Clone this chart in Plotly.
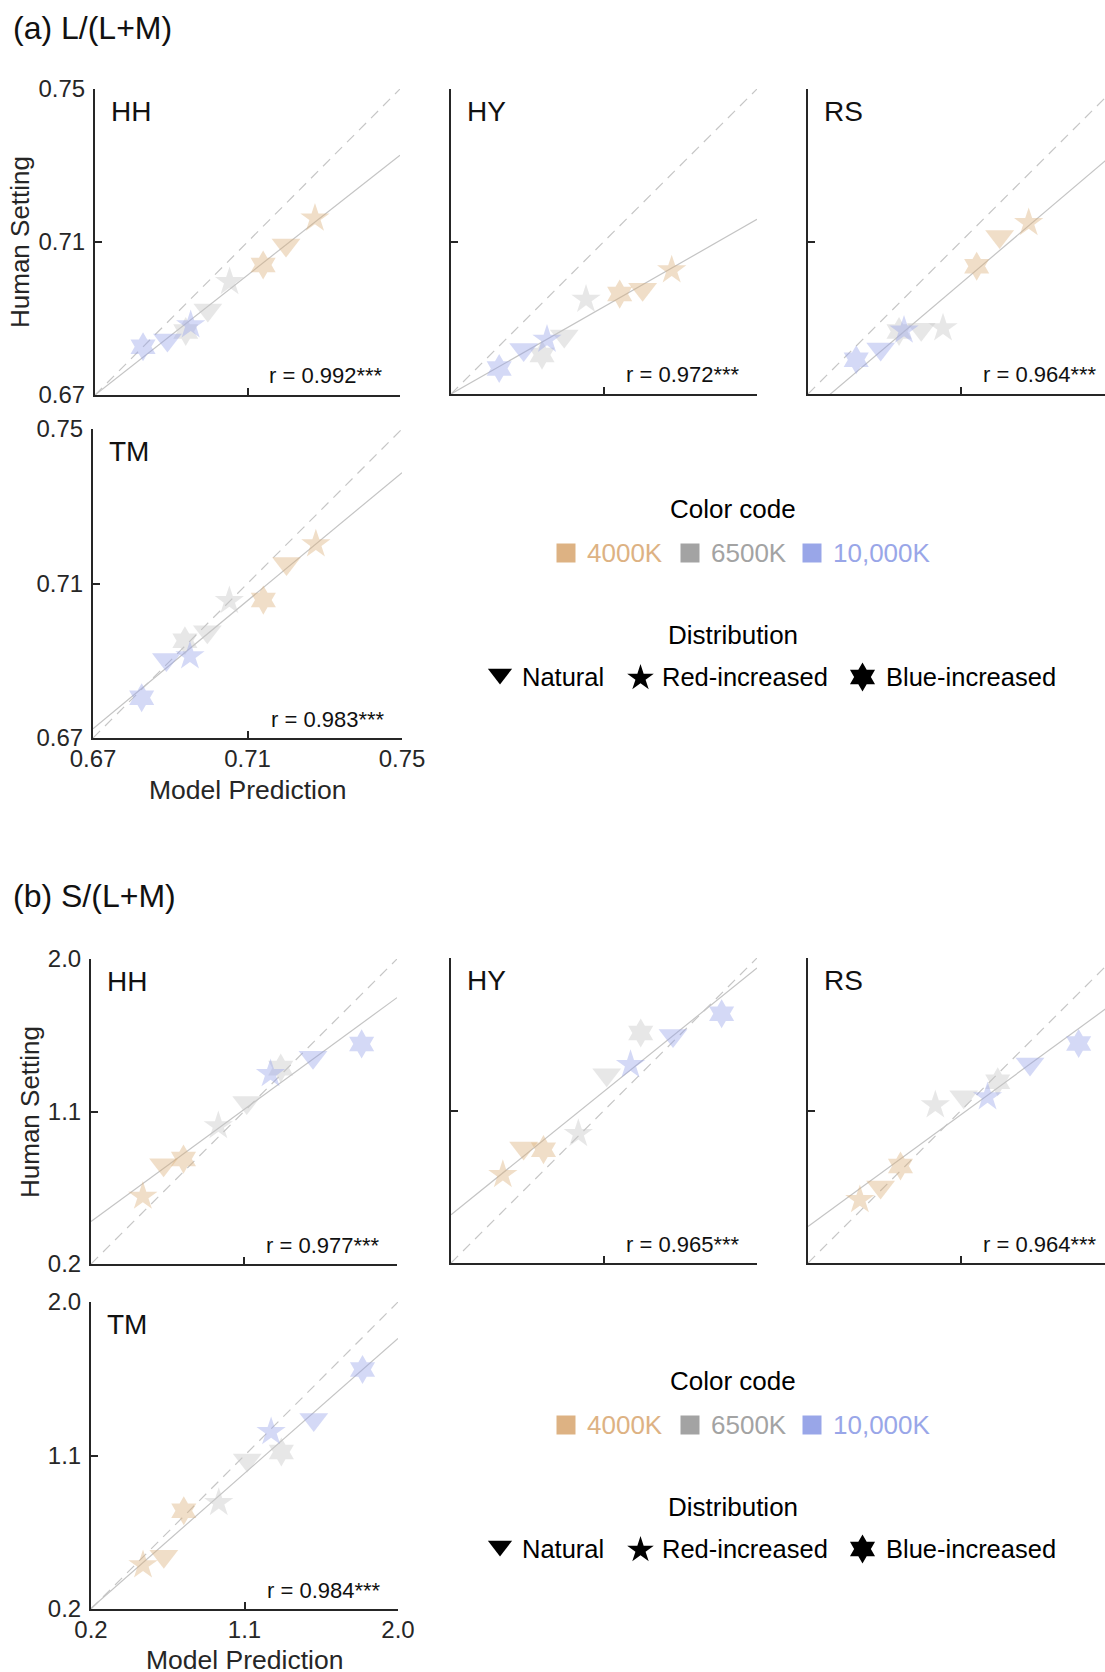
import plotly.graph_objects as go

W, H = 1105, 1672
FONT = "Liberation Sans, Arial, Helvetica, sans-serif"

# ------------------------------------------------------------------ data
observers = ["HH", "HY", "RS", "TM"]
cond_color = ["4000K", "4000K", "4000K", "6500K", "6500K", "6500K",
              "10,000K", "10,000K", "10,000K"]
cond_dist = ["Natural", "Red-increased", "Blue-increased"] * 3

# (a) L/(L+M)
model_LM = [0.7201, 0.7277, 0.7141, 0.6996, 0.7053, 0.6938, 0.6890, 0.6951, 0.6826]
human_LM_HH = [0.7092, 0.7162, 0.7040, 0.6922, 0.6996, 0.6866, 0.6844, 0.6883, 0.6826]
human_LM_HY = [0.6975, 0.7025, 0.6962, 0.6852, 0.6948, 0.6802, 0.6817, 0.6843, 0.6767]
human_LM_RS = [0.7113, 0.7149, 0.7035, 0.6870, 0.6873, 0.6864, 0.6818, 0.6867, 0.6790]
human_LM_TM = [0.7152, 0.7202, 0.7057, 0.6975, 0.7055, 0.6952, 0.6903, 0.6912, 0.6804]
# regression line: fitted human value at model = 0.67 and at model = 0.75
fit_LM_HH = [0.6700, 0.7327]
fit_LM_HY = [0.6700, 0.7158]
fit_LM_RS = [0.6650, 0.7331]
fit_LM_TM = [0.6724, 0.7387]
r_LM = ["0.992", "0.972", "0.964", "0.983"]
ticks_LM = [0.67, 0.71, 0.75]
ticklabels_LM = ["0.67", "0.71", "0.75"]

# (b) S/(L+M)
model_S = [0.627, 0.505, 0.744, 1.116, 0.949, 1.316, 1.506, 1.256, 1.792]
human_S_HH = [0.786, 0.599, 0.819, 1.153, 1.015, 1.356, 1.420, 1.322, 1.499]
human_S_HY = [0.879, 0.721, 0.869, 1.311, 0.963, 1.557, 1.542, 1.370, 1.671]
human_S_RS = [0.648, 0.573, 0.773, 1.181, 1.132, 1.270, 1.374, 1.180, 1.496]
human_S_TM = [0.510, 0.458, 0.776, 1.073, 0.823, 1.121, 1.311, 1.239, 1.604]
fit_S_HH = [0.451, 1.772]
fit_S_HY = [0.485, 1.941]
fit_S_RS = [0.416, 1.736]
fit_S_TM = [0.204, 1.786]
r_S = ["0.977", "0.965", "0.964", "0.984"]
ticks_S = [0.2, 1.1, 2.0]
ticklabels_S = ["0.2", "1.1", "2.0"]

legend_colors = ["4000K", "6500K", "10,000K"]
legend_dists = ["Natural", "Red-increased", "Blue-increased"]

# ------------------------------------------------------------------ styles
marker_rgba = {"4000K": "rgba(220,177,123,0.6)",
               "6500K": "rgba(198,198,198,0.6)",
               "10,000K": "rgba(153,165,233,0.6)"}
legend_rgb = {"4000K": "#DDB283", "6500K": "#A3A3A3", "10,000K": "#99A6E8"}
sym = {"Natural": "triangle-down", "Red-increased": "star", "Blue-increased": "hexagram"}
sym_size = {"Natural": 25, "Red-increased": 22, "Blue-increased": 22}
leg_sym_size = {"Natural": 21, "Red-increased": 20, "Blue-increased": 22}
AX = "#262626"

# panel pixel boxes (left, top, right, bottom); right may exceed page width
boxes = {
    ("a", "HH"): (95, 89, 400, 395),
    ("a", "HY"): (451, 89, 757, 394),
    ("a", "RS"): (808, 89, 1114, 394),
    ("a", "TM"): (93, 429, 402, 738),
    ("b", "HH"): (91, 959, 397, 1264),
    ("b", "HY"): (451, 958, 757, 1263),
    ("b", "RS"): (808, 958, 1114, 1263),
    ("b", "TM"): (91, 1302, 398, 1609),
}

data = {
    "a": dict(model=model_LM, ticks=ticks_LM, labels=ticklabels_LM, r=r_LM,
              human={"HH": human_LM_HH, "HY": human_LM_HY, "RS": human_LM_RS, "TM": human_LM_TM},
              fit={"HH": fit_LM_HH, "HY": fit_LM_HY, "RS": fit_LM_RS, "TM": fit_LM_TM}),
    "b": dict(model=model_S, ticks=ticks_S, labels=ticklabels_S, r=r_S,
              human={"HH": human_S_HH, "HY": human_S_HY, "RS": human_S_RS, "TM": human_S_TM},
              fit={"HH": fit_S_HH, "HY": fit_S_HY, "RS": fit_S_RS, "TM": fit_S_TM}),
}


def px(x):
    return x / W


def py(y):
    return 1 - y / H


fig = go.Figure()
layout = {}
annotations = []

idx = 0
for part in ["a", "b"]:
    d = data[part]
    t0, t1 = d["ticks"][0], d["ticks"][-1]
    for k, obs in enumerate(observers):
        idx += 1
        L, T, R, B = boxes[(part, obs)]
        xr_max = t1
        R_vis = R
        if R > W:
            R_vis = W
            xr_max = t0 + (t1 - t0) * (W - L) / (R - L)
        xa = "xaxis" if idx == 1 else f"xaxis{idx}"
        ya = "yaxis" if idx == 1 else f"yaxis{idx}"
        xs = "x" if idx == 1 else f"x{idx}"
        ys = "y" if idx == 1 else f"y{idx}"
        show_x_labels = obs == "TM"
        show_y_labels = obs in ("HH", "TM")
        common = dict(showline=True, linewidth=2, linecolor=AX, mirror=False,
                      ticks="inside", ticklen=7, tickwidth=2, tickcolor=AX,
                      showgrid=False, zeroline=False, automargin=False,
                      tickvals=d["ticks"], ticktext=d["labels"],
                      tickfont=dict(family=FONT, size=24, color=AX),
                      fixedrange=True)
        layout[xa] = dict(common, domain=[px(L), px(R_vis)], range=[t0, xr_max],
                          anchor=ys, showticklabels=show_x_labels, ticklabelstandoff=-2)
        layout[ya] = dict(common, domain=[py(B), py(T)], range=[t0, t1],
                          anchor=xs, showticklabels=show_y_labels, ticklabelstandoff=3)

        # identity line
        fig.add_trace(go.Scatter(x=[t0, t1], y=[t0, t1], mode="lines", xaxis=xs, yaxis=ys,
                                 line=dict(color="#C6C6C6", width=1.2, dash="10px,7px"),
                                 showlegend=False, hoverinfo="skip"))
        # regression line
        fig.add_trace(go.Scatter(x=[t0, t1], y=d["fit"][obs], mode="lines", xaxis=xs, yaxis=ys,
                                 line=dict(color="#C4C4C4", width=1.2),
                                 showlegend=False, hoverinfo="skip"))
        # markers
        fig.add_trace(go.Scatter(
            x=d["model"], y=d["human"][obs], mode="markers", xaxis=xs, yaxis=ys,
            marker=dict(symbol=[sym[s] for s in cond_dist],
                        size=[sym_size[s] for s in cond_dist],
                        color=[marker_rgba[c] for c in cond_color],
                        line=dict(width=0)),
            cliponaxis=False, showlegend=False,
            text=[f"{c}, {s}" for c, s in zip(cond_color, cond_dist)]))

        # panel name
        annotations.append(dict(x=px(L + 14), y=py(T + 22), xref="paper", yref="paper",
                                text=obs, showarrow=False, xanchor="left", yanchor="middle",
                                font=dict(family=FONT, size=28, color="#111111")))
        # correlation
        annotations.append(dict(x=px(R - 15), y=py(B - 19), xref="paper", yref="paper",
                                text=f"r = {d['r'][k]}***", showarrow=False,
                                xanchor="right", yanchor="middle",
                                font=dict(family=FONT, size=22, color="#111111")))

# section titles
annotations.append(dict(x=px(11), y=py(28), xref="paper", yref="paper", text="(a) L/(L+M)",
                        showarrow=False, xanchor="left", yanchor="middle",
                        font=dict(family=FONT, size=32, color="#111111")))
annotations.append(dict(x=px(11), y=py(896), xref="paper", yref="paper", text="(b) S/(L+M)",
                        showarrow=False, xanchor="left", yanchor="middle",
                        font=dict(family=FONT, size=32, color="#111111")))

# axis titles
for (xc, yc) in [(20, 242), (30, 1112)]:
    annotations.append(dict(x=px(xc), y=py(yc), xref="paper", yref="paper", text="Human Setting",
                            showarrow=False, textangle=-90, xanchor="center", yanchor="middle",
                            font=dict(family=FONT, size=26, color=AX)))
for (xc, yc) in [(247.5, 790), (244.5, 1660)]:
    annotations.append(dict(x=px(xc), y=py(yc), xref="paper", yref="paper", text="Model Prediction",
                            showarrow=False, xanchor="center", yanchor="middle",
                            font=dict(family=FONT, size=26.5, color=AX)))

# legend blocks (overlay pixel axis)
layout["xaxis9"] = dict(domain=[0, 1], range=[0, W], visible=False, fixedrange=True, anchor="y9")
layout["yaxis9"] = dict(domain=[0, 1], range=[H, 0], visible=False, fixedrange=True, anchor="x9")

sq_x = [566, 690, 812]
txt_x = [585, 709, 831]
glyph_x = [500, 640.5, 862.5]
glyph_txt_x = [520, 660, 884]
LEG_FONT = 26
for dy in [0, 872]:
    annotations.append(dict(x=px(733), y=py(509 + dy), xref="paper", yref="paper", text="Color code",
                            showarrow=False, xanchor="center", yanchor="middle",
                            font=dict(family=FONT, size=LEG_FONT, color="#000000")))
    fig.add_trace(go.Scatter(x=sq_x, y=[553 + dy] * 3, xaxis="x9", yaxis="y9", mode="markers",
                             marker=dict(symbol="square", size=19,
                                         color=[legend_rgb[c] for c in legend_colors]),
                             showlegend=False, hoverinfo="skip", cliponaxis=False))
    for c, tx in zip(legend_colors, txt_x):
        annotations.append(dict(x=px(tx), y=py(553 + dy), xref="paper", yref="paper", text=c,
                                showarrow=False, xanchor="left", yanchor="middle",
                                font=dict(family=FONT, size=LEG_FONT, color=legend_rgb[c])))
    annotations.append(dict(x=px(733), y=py(635 + dy), xref="paper", yref="paper", text="Distribution",
                            showarrow=False, xanchor="center", yanchor="middle",
                            font=dict(family=FONT, size=LEG_FONT, color="#000000")))
    fig.add_trace(go.Scatter(x=glyph_x, y=[674 + dy, 678 + dy, 677 + dy], xaxis="x9", yaxis="y9",
                             mode="markers",
                             marker=dict(symbol=[sym[s] for s in legend_dists],
                                         size=[leg_sym_size[s] for s in legend_dists],
                                         color="#000000", opacity=1, line=dict(width=0)),
                             showlegend=False, hoverinfo="skip", cliponaxis=False))
    for s, tx in zip(legend_dists, glyph_txt_x):
        annotations.append(dict(x=px(tx), y=py(677 + dy), xref="paper", yref="paper", text=s,
                                showarrow=False, xanchor="left", yanchor="middle",
                                font=dict(family=FONT, size=25.5, color="#000000")))

fig.update_layout(width=W, height=H, autosize=False,
                  margin=dict(l=0, r=0, t=0, b=0, pad=0, autoexpand=False),
                  paper_bgcolor="white", plot_bgcolor="rgba(0,0,0,0)",
                  showlegend=False, annotations=annotations, **layout)

fig.write_html("out.html", config={"displayModeBar": False})
